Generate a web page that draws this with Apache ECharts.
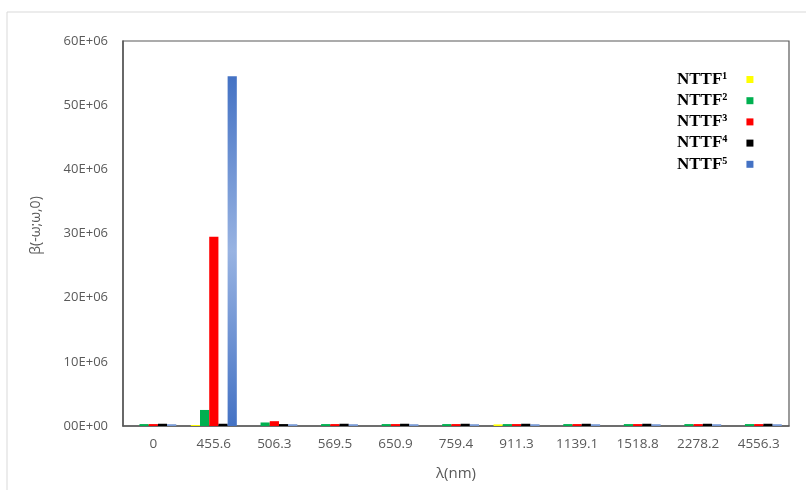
<!DOCTYPE html>
<html>
<head>
<meta charset="utf-8">
<script src="https://cdn.jsdelivr.net/npm/echarts@6/dist/echarts.min.js"></script>
<style>html,body{margin:0;padding:0;background:#fff}#c{width:806px;height:490px}</style>
</head>
<body>
<div id="c"></div>
<script>
const categories = ['0','455.6','506.3','569.5','650.9','759.4','911.3','1139.1','1518.8','2278.2','4556.3'];
const seriesNames = ['NTTF¹','NTTF²','NTTF³','NTTF⁴','NTTF⁵'];
const nttf1 = [0, 0.15e6, 0, 0, 0, 0, 0.25e6, 0, 0, 0, 0];
const nttf2 = [0.3e6, 2.5e6, 0.55e6, 0.3e6, 0.3e6, 0.3e6, 0.3e6, 0.3e6, 0.3e6, 0.3e6, 0.3e6];
const nttf3 = [0.3e6, 29.5e6, 0.75e6, 0.3e6, 0.3e6, 0.3e6, 0.3e6, 0.3e6, 0.3e6, 0.3e6, 0.3e6];
const nttf4 = [0.35e6, 0.35e6, 0.3e6, 0.35e6, 0.35e6, 0.35e6, 0.35e6, 0.35e6, 0.35e6, 0.35e6, 0.35e6];
const nttf5 = [0.25e6, 54.5e6, 0.25e6, 0.25e6, 0.25e6, 0.25e6, 0.25e6, 0.25e6, 0.25e6, 0.25e6, 0.25e6];
const yTicks = ['00E+00','10E+06','20E+06','30E+06','40E+06','50E+06','60E+06'];

const chart = echarts.init(document.getElementById('c'), null, {renderer:'canvas'});
const blueGrad = new echarts.graphic.LinearGradient(0,0,0,1,[
  {offset:0,color:'#4472C4'},{offset:0.5,color:'#98B3E2'},{offset:1,color:'#4472C4'}
]);
const colors = ['#FFFF00','#00B050','#FF0000','#000000','#4472C4'];
const datas = [nttf1,nttf2,nttf3,nttf4,nttf5];
const series = datas.map((d,i)=>({
  name: seriesNames[i], type:'bar', data:d,
  barWidth: 9.2, barGap:'0%',
  itemStyle:{color: i===4 ? blueGrad : colors[i]},
  emphasis:{disabled:true}
}));
chart.setOption({
  animation:false,
  color: colors,
  graphic:[{type:'rect', shape:{x:7,y:12,width:820,height:500}, style:{fill:'none',stroke:'#d9d9d9',lineWidth:1}, silent:true, z:-10}],
  grid:{left:123,right:17,top:41,bottom:64,show:true,borderColor:'#595959',borderWidth:1.2,containLabel:false},
  legend:{
    orient:'vertical', left:672, top:66, align:'right',
    itemWidth:7, itemHeight:7, itemGap:4.2,
    icon:'rect',
    data: seriesNames.map((n,i)=>({name:n, itemStyle:{color:colors[i]}})),
    textStyle:{fontFamily:'Liberation Serif', fontWeight:'bold', fontSize:17, color:'#000', padding:[0,14,0,0], lineHeight:17}
  },
  xAxis:{
    type:'category', data:categories,
    name:'λ(nm)', nameLocation:'middle', nameGap:40,
    nameTextStyle:{color:'#595959', fontSize:15, fontFamily:'Open Sans'},
    axisLine:{lineStyle:{color:'#595959',width:1.5}},
    axisTick:{show:false},
    axisLabel:{color:'#595959', fontSize:13.5, fontFamily:'Open Sans', margin:11, interval:0}
  },
  yAxis:{
    type:'value', min:0, max:60e6, interval:10e6,
    name:'β(-ω;ω,0)', nameLocation:'middle', nameGap:80, nameRotate:90,
    nameTextStyle:{color:'#595959', fontSize:14, fontFamily:'Open Sans', padding:[0,0,0,16]},
    axisLine:{show:true, lineStyle:{color:'#595959',width:1.5}},
    axisTick:{show:false},
    splitLine:{show:false},
    axisLabel:{color:'#595959', fontSize:13, fontFamily:'Open Sans', margin:15,
      formatter:(v)=>yTicks[Math.round(v/10e6)]}
  },
  series
});
</script>
</body>
</html>
